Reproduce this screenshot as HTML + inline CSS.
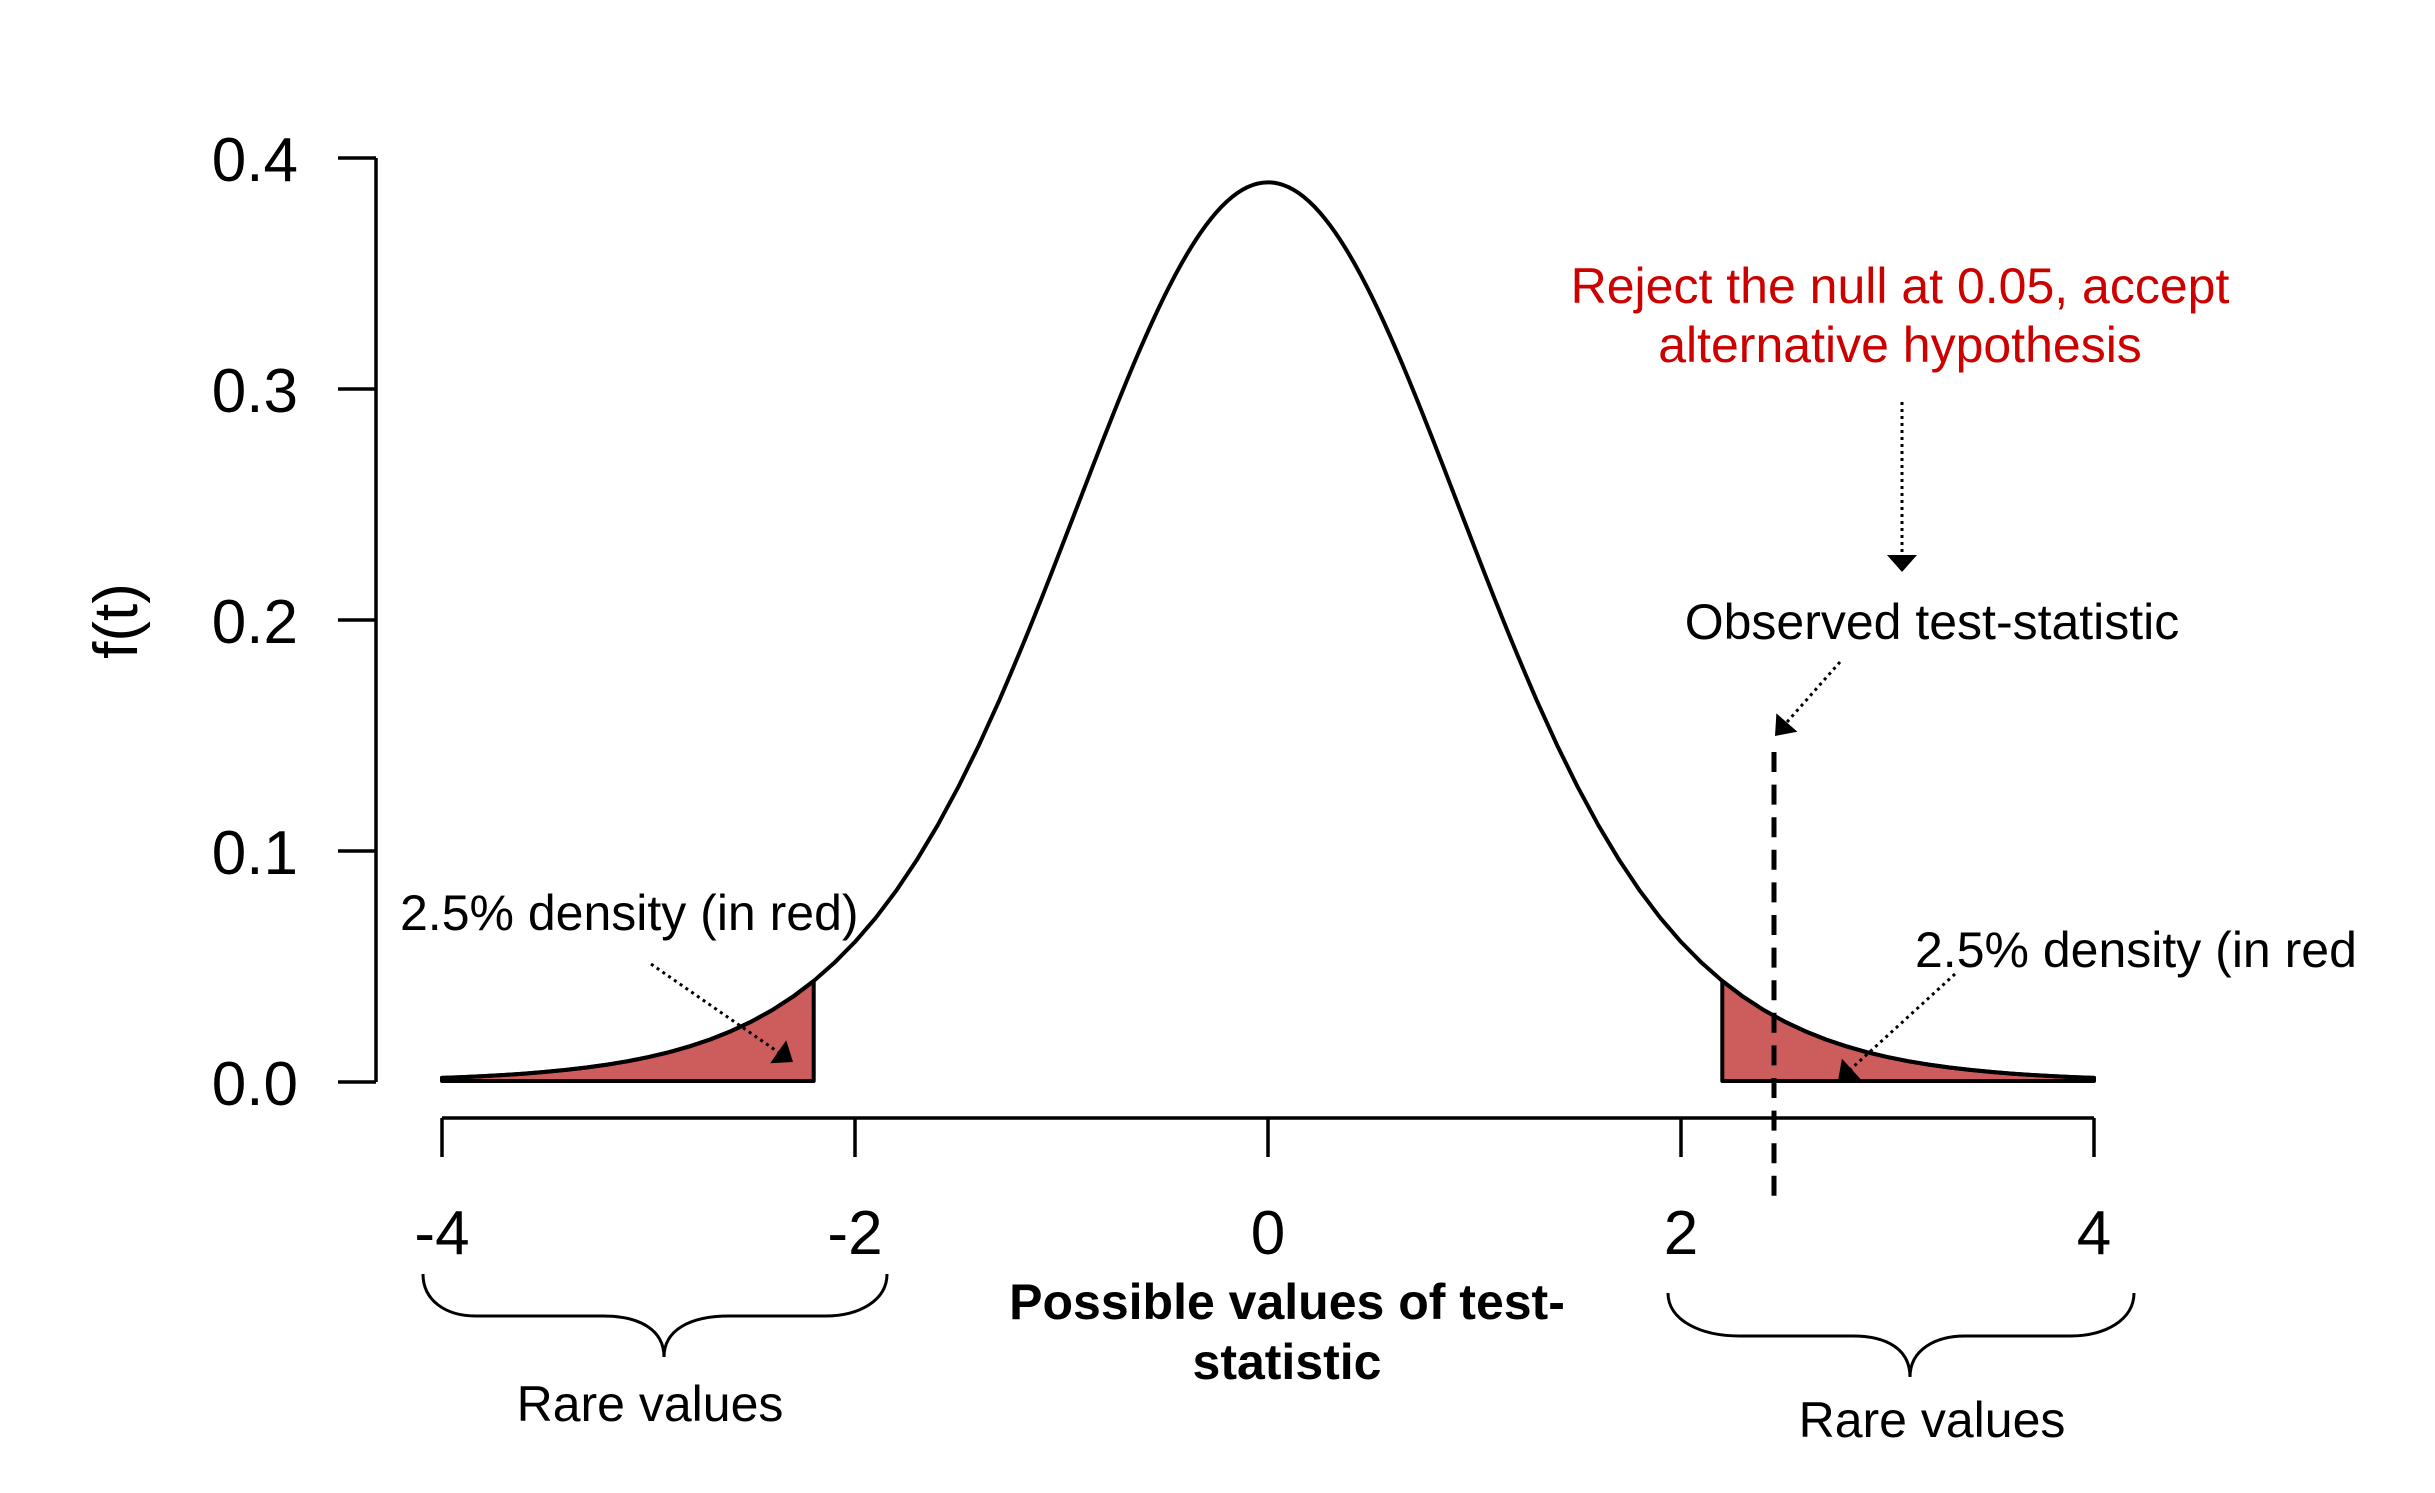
<!DOCTYPE html>
<html>
<head>
<meta charset="utf-8">
<style>
  html,body{margin:0;padding:0;background:#fff;}
  svg{display:block;}
  text{font-family:"Liberation Sans",Arial,Helvetica,sans-serif;}
</style>
</head>
<body>
<svg width="2435" height="1493" viewBox="0 0 2435 1493" xmlns="http://www.w3.org/2000/svg">
  <rect width="2435" height="1493" fill="#fff"/>

  <!-- shaded tails -->
  <path d="M442,1081 L442,1077.9 462.65,1077.1 483.3,1076.1 503.95,1075.0 524.6,1073.6 545.25,1071.9 565.9,1069.9 586.55,1067.5 607.2,1064.6 627.85,1061.2 648.5,1057.1 669.15,1052.2 689.8,1046.3 710.45,1039.4 731.1,1031.1 751.75,1021.4 772.4,1010.0 793.05,996.6 813.7,981.0 L813.7,1081 Z" fill="#CD5C5C" stroke="#000" stroke-width="4" stroke-linejoin="round"/>
  <path d="M1722.3,1081 L1722.3,981.0 1742.95,996.6 1763.6,1010.0 1784.25,1021.4 1804.9,1031.1 1825.55,1039.4 1846.2,1046.3 1866.85,1052.2 1887.5,1057.1 1908.15,1061.2 1928.8,1064.6 1949.45,1067.5 1970.1,1069.9 1990.75,1071.9 2011.4,1073.6 2032.05,1075.0 2052.7,1076.1 2073.35,1077.1 2094,1077.9 L2094,1081 Z" fill="#CD5C5C" stroke="#000" stroke-width="4" stroke-linejoin="round"/>

  <!-- density curve -->
  <path fill="none" stroke="#000" stroke-width="4" stroke-linejoin="round" stroke-linecap="round" d="M442,1077.9 L462.65,1077.1 483.3,1076.1 503.95,1075.0 524.6,1073.6 545.25,1071.9 565.9,1069.9 586.55,1067.5 607.2,1064.6 627.85,1061.2 648.5,1057.1 669.15,1052.2 689.8,1046.3 710.45,1039.4 731.1,1031.1 751.75,1021.4 772.4,1010.0 793.05,996.6 813.7,981.0 834.35,962.8 855,941.9 875.65,917.9 896.3,890.6 916.95,859.8 937.6,825.3 958.25,787.1 978.9,745.2 999.55,699.8 L1009.875,675.6 Q1020.2,651.4 1030.525,625.9 Q1040.85,600.4 1051.175,573.95 Q1061.5,547.5 1071.825,520.65 Q1082.15,493.8 1092.475,467.05 Q1102.8,440.3 1113.125,414.35 Q1123.45,388.4 1133.775,363.9 Q1144.1,339.4 1154.425,317.1 Q1164.75,294.8 1175.075,275.35 Q1185.4,255.9 1195.725,240.0 Q1206.05,224.1 1216.375,212.3 Q1226.7,200.5 1237.025,193.25 Q1247.35,186.0 1257.675,183.55 Q1268,181.1 1278.325,183.55 Q1288.65,186.0 1298.975,193.25 Q1309.3,200.5 1319.625,212.3 Q1329.95,224.1 1340.275,240.0 Q1350.6,255.9 1360.925,275.35 Q1371.25,294.8 1381.575,317.1 Q1391.9,339.4 1402.225,363.9 Q1412.55,388.4 1422.875,414.35 Q1433.2,440.3 1443.525,467.05 Q1453.85,493.8 1464.175,520.65 Q1474.5,547.5 1484.825,573.95 Q1495.15,600.4 1505.475,625.9 Q1515.8,651.4 1526.125,675.6 L1536.45,699.8 1557.1,745.2 1577.75,787.1 1598.4,825.3 1619.05,859.8 1639.7,890.6 1660.35,917.9 1681,941.9 1701.65,962.8 1722.3,981.0 1742.95,996.6 1763.6,1010.0 1784.25,1021.4 1804.9,1031.1 1825.55,1039.4 1846.2,1046.3 1866.85,1052.2 1887.5,1057.1 1908.15,1061.2 1928.8,1064.6 1949.45,1067.5 1970.1,1069.9 1990.75,1071.9 2011.4,1073.6 2032.05,1075.0 2052.7,1076.1 2073.35,1077.1 2094,1077.9"/>

  <!-- y axis -->
  <g stroke="#000" stroke-width="3.5" fill="none">
    <path d="M376,158 L376,1082"/>
    <path d="M338,158 L376,158 M338,389 L376,389 M338,620 L376,620 M338,851 L376,851 M338,1082 L376,1082"/>
  </g>
  <g font-size="62" text-anchor="end" fill="#000">
    <text x="298" y="181">0.4</text>
    <text x="298" y="412">0.3</text>
    <text x="298" y="643">0.2</text>
    <text x="298" y="874">0.1</text>
    <text x="298" y="1105">0.0</text>
  </g>
  <text transform="translate(137,621) rotate(-90)" font-size="62" text-anchor="middle" fill="#000">f(t)</text>

  <!-- x axis -->
  <g stroke="#000" stroke-width="3.5" fill="none">
    <path d="M442,1118 L2094,1118"/>
    <path d="M442,1118 L442,1157 M855,1118 L855,1157 M1268,1118 L1268,1157 M1681,1118 L1681,1157 M2094,1118 L2094,1157"/>
  </g>
  <g font-size="62" text-anchor="middle" fill="#000">
    <text x="442" y="1254">-4</text>
    <text x="855" y="1254">-2</text>
    <text x="1268" y="1254">0</text>
    <text x="1681" y="1254">2</text>
    <text x="2094" y="1254">4</text>
  </g>

  <!-- x label -->
  <g font-size="50" font-weight="bold" text-anchor="middle" fill="#000">
    <text x="1287" y="1319">Possible values of test-</text>
    <text x="1287" y="1379">statistic</text>
  </g>

  <!-- observed dashed line -->
  <path d="M1774,752 L1774,1198" stroke="#000" stroke-width="5" stroke-dasharray="20 12.6" fill="none"/>

  <!-- red annotation -->
  <g font-size="50" text-anchor="middle" fill="#CD0000">
    <text x="1900" y="303">Reject the null at 0.05, accept</text>
    <text x="1900" y="362">alternative hypothesis</text>
  </g>
  <path d="M1902,402 L1902,558" stroke="#000" stroke-width="3" stroke-dasharray="3 4" fill="none"/>
  <polygon points="1902,572 1887,555 1917,555" fill="#000"/>

  <!-- observed test-statistic -->
  <text x="1932" y="639" font-size="50" text-anchor="middle" fill="#000">Observed test-statistic</text>
  <path d="M1840,662 L1787,722" stroke="#000" stroke-width="3" stroke-dasharray="3 4" fill="none"/>
  <polygon points="1775,736 1797.4,731.7 1776.4,713.3" fill="#000"/>

  <!-- left density annotation -->
  <text x="400" y="930" font-size="50" fill="#000">2.5% density (in red)</text>
  <path d="M651,964 L778,1052" stroke="#000" stroke-width="3" stroke-dasharray="3 4" fill="none"/>
  <polygon points="793,1062 770.2,1063.3 786.2,1040.3" fill="#000"/>

  <!-- right density annotation -->
  <text x="1915" y="967" font-size="50" fill="#000">2.5% density (in red</text>
  <path d="M1955,974 L1851,1069" stroke="#000" stroke-width="3" stroke-dasharray="3 4" fill="none"/>
  <polygon points="1838,1081 1860.7,1079.2 1841.9,1058.6" fill="#000"/>

  <!-- braces -->
  <path d="M423,1274 C423,1300 445,1316 476,1316 L603,1316 C640,1316 664,1330 664,1357 C664,1330 690,1316 729,1316 L825,1316 C860,1316 887,1300 887,1274" fill="none" stroke="#000" stroke-width="3"/>
  <path d="M1668,1293 C1668,1320 1700,1336 1740,1336 L1853,1336 C1888,1336 1910,1350 1910,1377 C1910,1350 1935,1336 1965,1336 L2070,1336 C2105,1336 2134,1320 2134,1293" fill="none" stroke="#000" stroke-width="3"/>

  <g font-size="50" text-anchor="middle" fill="#000">
    <text x="650" y="1421">Rare values</text>
    <text x="1932" y="1437">Rare values</text>
  </g>
</svg>
</body>
</html>
